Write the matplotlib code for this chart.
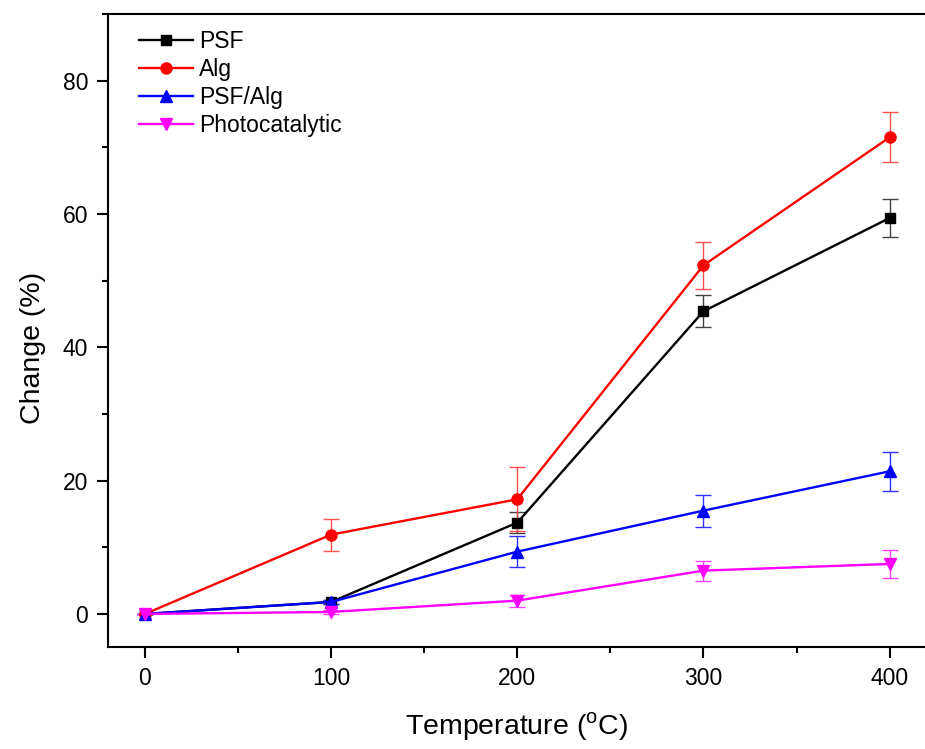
import matplotlib
matplotlib.use("Agg")
import matplotlib.pyplot as plt
from matplotlib.ticker import MultipleLocator

plt.rcParams['font.family'] = ['Liberation Sans', 'DejaVu Sans']
plt.rcParams['mathtext.fontset'] = 'custom'
plt.rcParams['mathtext.rm'] = 'Liberation Sans'

temperature = [0, 100, 200, 300, 400]
psf = [0, 1.8, 13.7, 45.4, 59.4]
psf_err = [0, 0.3, 1.6, 2.4, 2.9]
alg = [0, 11.9, 17.2, 52.3, 71.5]
alg_err = [0, 2.4, 4.8, 3.5, 3.75]
psf_alg = [0, 1.8, 9.35, 15.5, 21.4]
psf_alg_err = [0, 0.3, 2.3, 2.4, 2.9]
photo = [0, 0.3, 2.0, 6.5, 7.5]
photo_err = [0, 0.3, 0.9, 1.5, 2.1]

series = [
    ("PSF", psf, psf_err, "black", "#404040", "s", 7),
    ("Alg", alg, alg_err, "red", "#ff5050", "o", 8),
    ("PSF/Alg", psf_alg, psf_alg_err, "blue", "#3030ff", "^", 8),
    ("Photocatalytic", photo, photo_err, "magenta", "#ff40ff", "v", 8),
]

fig = plt.figure(figsize=(9.25, 7.49), dpi=100)
ax = fig.add_axes([0.1164, 0.1358, 1.0 - 0.1164, 0.9813 - 0.1358])

for name, y, e, c, ec, m, ms in series:
    ax.errorbar(temperature, y, yerr=e, fmt='none', ecolor=ec, elinewidth=1.0,
                capsize=6, capthick=1.0, zorder=2)
    ax.plot(temperature, y, color=c, marker=m, markersize=ms, lw=1.7,
            label=name, zorder=3)

ax.set_xlim(-20, 419)
ax.set_ylim(-5, 90)
ax.xaxis.set_major_locator(MultipleLocator(100))
ax.xaxis.set_minor_locator(MultipleLocator(50))
ax.yaxis.set_major_locator(MultipleLocator(20))
ax.yaxis.set_minor_locator(MultipleLocator(10))
ax.tick_params(which='major', direction='out', length=8, width=1.5, labelsize=16.5, pad=6)
ax.tick_params(which='minor', direction='out', length=4, width=1.5)
ax.spines['right'].set_visible(False)
for s in ['left', 'bottom', 'top']:
    ax.spines[s].set_linewidth(1.5)

ax.set_xlabel('Temperature ($^{\\mathrm{o}}$C)', fontsize=20.5, labelpad=15)
ax.set_ylabel('Change (%)', fontsize=20.5, labelpad=12)
ax.yaxis.label.set_y(0.473)

ax.legend(loc='upper left', bbox_to_anchor=(0.019, 1.0), frameon=False,
          fontsize=16.5, handlelength=2.35, handletextpad=0.26, labelspacing=0.22,
          borderaxespad=0.3)

fig.savefig('out.png', dpi=100)
